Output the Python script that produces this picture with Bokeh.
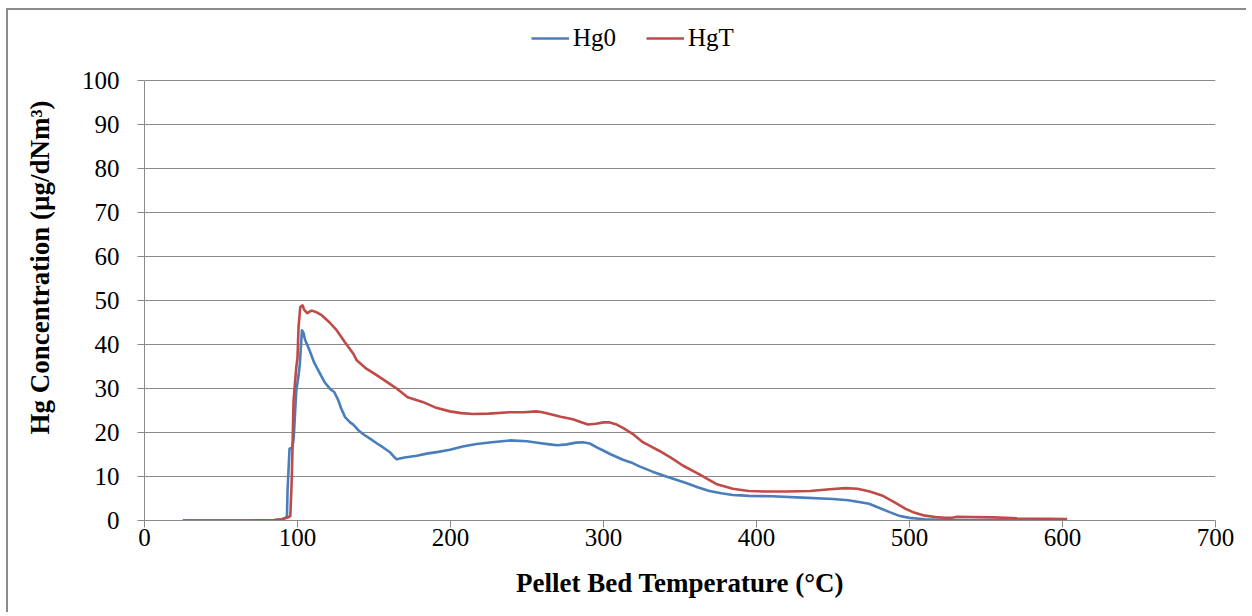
from bokeh.plotting import figure
from bokeh.models import Range1d, Legend, LegendItem, FixedTicker
from bokeh.embed import file_html
from bokeh.resources import INLINE

# Pellet bed temperature (°C) and Hg concentration (µg/dNm³)
hg0_temp = [25, 50, 70, 85, 90, 92, 93.1, 93.5, 94.2, 94.8, 96.5, 97.3, 97.8, 98.5, 99.2,
            100.7, 101.5, 102.3, 102.9, 103.8, 105, 106.5, 108.3, 111, 114.8, 118, 121.3,
            124, 126.7, 128.5, 131.1, 134.4, 136.5, 139.8, 143, 147.4, 152, 156, 160.5,
            163, 164.8, 170, 178, 184.4, 192, 199.6, 208, 217, 227, 238.7, 250, 258, 264.8,
            270, 276, 282, 286.6, 291, 297.5, 305, 312.7, 318, 323.5, 332, 341, 348, 354,
            362, 369.2, 377, 384.5, 390, 395, 410, 430, 450, 460, 467, 473.6, 480, 487,
            493, 500, 510, 520, 540, 570, 603]
hg0_conc = [0, 0, 0, 0.1, 0.3, 0.6, 0.9, 6.8, 12, 16.3, 16.6, 18, 20.5, 25, 29.5,
            33, 35.5, 40, 43.2, 42.8, 41, 39.8, 38.3, 35.8, 33.3, 31.3, 29.9,
            29.2, 27.3, 25.5, 23.5, 22.3, 21.8, 20.5, 19.6, 18.6, 17.5, 16.6, 15.5,
            14.5, 13.9, 14.3, 14.7, 15.2, 15.6, 16.1, 16.8, 17.4, 17.8, 18.2, 18.0, 17.6, 17.3,
            17.1, 17.3, 17.7, 17.8, 17.5, 16.3, 15.0, 13.8, 13.2, 12.3, 11.1, 10.0, 9.2, 8.5,
            7.5, 6.7, 6.2, 5.8, 5.7, 5.6, 5.5, 5.2, 4.9, 4.6, 4.2, 3.8, 2.9, 1.9,
            1.1, 0.6, 0.3, 0.15, 0.1, 0.1, 0.1]

hgt_temp = [25, 50, 70, 85, 90, 93, 94.1, 95.3, 96.3, 97.4, 98.3, 99.2, 100, 100.7, 101.8,
            103.3, 104.5, 106.5, 108, 109.4, 112, 116, 121, 125.7, 131, 136.5, 138.7, 145,
            152, 160.5, 164.8, 172, 182.2, 190, 199.6, 207, 214.8, 225, 238.7, 248, 256, 260,
            264.8, 272, 280, 285, 289.8, 295, 300, 304, 308, 313, 319, 325.7, 330, 336.6,
            344, 351.8, 362.7, 373.6, 384.5, 389, 395, 405, 420, 435, 448, 458, 466, 474,
            482, 490, 497.5, 503, 510, 517, 523.5, 528, 531, 540, 555, 570, 590, 603]
hgt_conc = [0, 0, 0, 0.1, 0.3, 0.6, 0.75, 1.0, 9.8, 27, 31, 34.8, 37, 44, 48.5,
            48.9, 47.8, 47.1, 47.5, 47.7, 47.4, 46.6, 45.0, 43.2, 40.5, 37.9, 36.4, 34.5,
            33.0, 31.0, 30.0, 28.0, 26.9, 25.7, 24.8, 24.4, 24.2, 24.3, 24.6, 24.6, 24.8, 24.6,
            24.2, 23.6, 23.0, 22.4, 21.8, 22.0, 22.3, 22.3, 21.9, 21.0, 19.7, 17.8, 17.0, 15.8,
            14.3, 12.5, 10.5, 8.3, 7.2, 7.0, 6.7, 6.6, 6.6, 6.7, 7.1, 7.35, 7.2, 6.6,
            5.7, 4.2, 2.65, 1.8, 1.1, 0.8, 0.6, 0.6, 0.85, 0.8, 0.7, 0.5, 0.4, 0.35]

x_ticks = [0, 100, 200, 300, 400, 500, 600, 700]
y_ticks = [0, 10, 20, 30, 40, 50, 60, 70, 80, 90, 100]
series_names = ["Hg0", "HgT"]
series_colors = ["#4A7EBB", "#BE4B48"]

SERIF = "Liberation Serif"
GRID = "#8a8a8a"

# the frame reaches above the value axis so the legend can sit inside it;
# axis line and ticks stop at 100
p = figure(width=1240, height=604, output_backend="svg", toolbar_location=None,
           x_range=Range1d(0, 700), y_range=Range1d(0, 115),
           min_border_left=136, min_border_right=33, min_border_top=4, min_border_bottom=94)
p.background_fill_color = "white"
p.border_fill_color = "white"
p.outline_line_color = None
p.styles = {"margin-left": "6px", "margin-top": "8px",
            "border-left": "2px solid #8c8c8c", "border-top": "2px solid #8c8c8c"}

r0 = p.line(hg0_temp, hg0_conc, line_color=series_colors[0], line_width=2.6, line_join="round")
r1 = p.line(hgt_temp, hgt_conc, line_color=series_colors[1], line_width=2.6, line_join="round")

p.xaxis.ticker = FixedTicker(ticks=x_ticks)
p.yaxis.ticker = FixedTicker(ticks=y_ticks)
p.yaxis.bounds = (0, 100)
p.xgrid.grid_line_color = None
p.ygrid.grid_line_color = GRID
p.ygrid.grid_line_width = 1

for ax in (p.xaxis[0], p.yaxis[0]):
    ax.axis_line_color = GRID
    ax.axis_line_width = 1
    ax.major_tick_line_color = GRID
    ax.major_tick_in = 0
    ax.major_tick_out = 7
    ax.minor_tick_line_color = None
    ax.major_label_text_font = SERIF
    ax.major_label_text_font_size = "25px"
    ax.major_label_text_color = "black"
    ax.axis_label_text_font = SERIF
    ax.axis_label_text_font_size = "27px"
    ax.axis_label_text_font_style = "bold"
    ax.axis_label_text_color = "black"

p.xaxis.axis_label = "Pellet Bed Temperature (°C)"
p.yaxis.axis_label = "Hg Concentration (µg/dNm³)"
p.xaxis.major_label_standoff = 1
p.yaxis.major_label_standoff = 18
p.xaxis.axis_label_standoff = 19
p.yaxis.axis_label_standoff = 24

legend = Legend(items=[LegendItem(label=series_names[0], renderers=[r0]),
                       LegendItem(label=series_names[1], renderers=[r1])],
                orientation="horizontal", location=(387, 468))
legend.label_text_font = SERIF
legend.label_text_font_size = "25px"
legend.label_text_color = "black"
legend.glyph_width = 38
legend.spacing = 30
legend.label_standoff = 4
legend.border_line_color = None
legend.background_fill_alpha = 0
legend.padding = 0
legend.margin = 0
p.add_layout(legend, "center")

open("out.html", "w").write(file_html(p, INLINE))
